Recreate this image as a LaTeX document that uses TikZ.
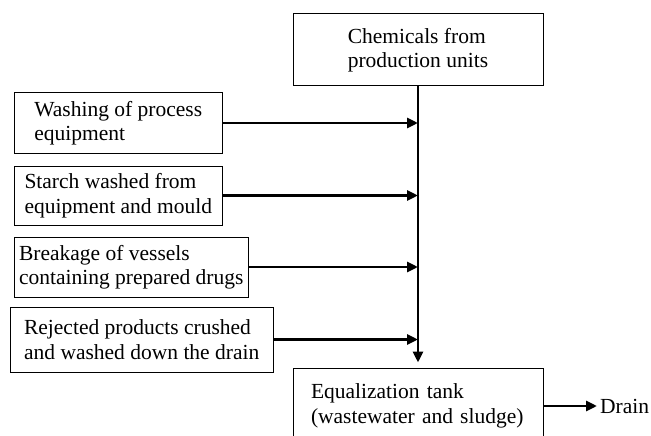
\documentclass[tikz,border=0pt]{standalone}
\usepackage{fontspec}
\setmainfont{Liberation Serif}
\usetikzlibrary{arrows.meta}
\begin{document}
\begin{tikzpicture}[x=1pt,y=-1pt]
    \tikzset{boite/.style={draw, line width=1pt, align=left, inner sep=0pt, font=\fontsize{21.5}{24.5}\selectfont}}
    \tikzset{fleche/.style={line width=2.8pt, -{Triangle[length=11pt,width=10pt]}}}
    \path[use as bounding box, clip] (0,0) rectangle (651,436);
    \node[boite, minimum width=250pt, minimum height=72pt] (chimie) at (418, 50) {Chemicals from\\production units};
    \node[boite, minimum width=207.5pt, minimum height=60pt] (lavage) at (118.25, 123) {Washing of process\\equipment};
    \node[boite, minimum width=207.5pt, minimum height=59pt] (amidon) at (118.25, 195.5) {Starch washed from\\equipment and mould};
    \node[boite, minimum width=233.5pt, minimum height=60pt] (casse) at (131.25, 267) {Breakage of vessels\\containing prepared drugs};
    \node[boite, minimum width=262.6pt, minimum height=65pt] (rejet) at (141.7, 339.5) {Rejected products crushed\\and washed down the drain};
    \node[boite, text width=214pt, inner xsep=18pt, minimum height=76pt] (bassin) at (418, 406) {Equalization tank\\(wastewater and sludge)};
    \node[inner xsep=3pt, anchor=west, font=\fontsize{21.5}{24.5}\selectfont] (egout) at (597, 406) {Drain};
    \draw[fleche, shorten >=5pt] (chimie.south) -- (chimie.south |- bassin.north);
    \draw[fleche] (lavage.east) -- (lavage.east -| chimie.south);
    \draw[fleche] (amidon.east) -- (amidon.east -| chimie.south);
    \draw[fleche] (casse.east) -- (casse.east -| chimie.south);
    \draw[fleche] (rejet.east) -- (rejet.east -| chimie.south);
    \draw[fleche] (bassin.east) -- (egout.west);
  \end{tikzpicture}
\end{document}
